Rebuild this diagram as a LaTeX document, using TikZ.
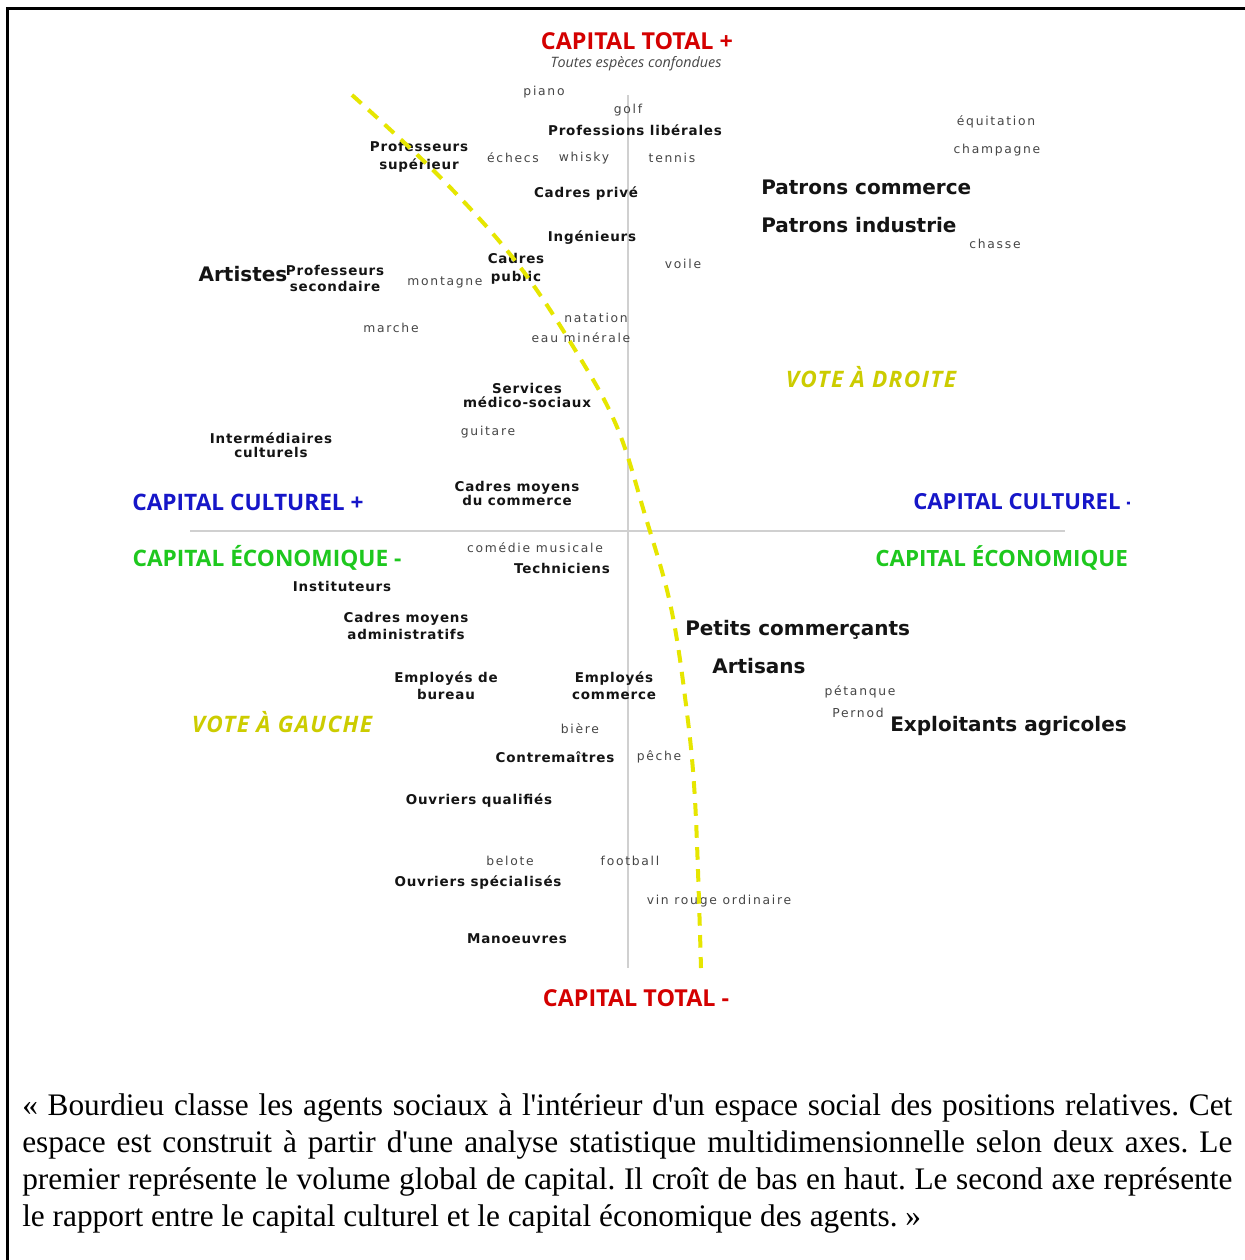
\documentclass[tikz,border=0pt]{standalone}
\usepackage{fontspec}
\setmainfont{Liberation Serif}
\newfontfamily\dvr{DejaVu Sans}[LetterSpace=14]
\newfontfamily\dvb{DejaVu Sans}[LetterSpace=6]
\newfontfamily\dvbig{DejaVu Sans}
\newfontfamily\osf{Open Sans}
\newfontfamily\osvote{Open Sans}[LetterSpace=6]
\definecolor{capred}{RGB}{212,0,0}
\definecolor{capblue}{RGB}{22,22,200}
\definecolor{capgreen}{RGB}{30,200,30}
\definecolor{voteyellow}{RGB}{204,204,0}
\definecolor{dashyellow}{RGB}{230,230,0}
\definecolor{actgray}{RGB}{70,70,70}
\definecolor{lblblack}{RGB}{20,20,20}
\definecolor{axisgray}{RGB}{208,208,208}
\begin{document}
\frenchspacing
\begin{tikzpicture}[x=0.75pt,y=-0.75pt,
  act/.style={font=\dvr\fontsize{9.25}{10}\selectfont, text=actgray, inner sep=0pt},
  lbl/.style={font=\dvb\bfseries\fontsize{10.1}{13.5}\selectfont, text=lblblack, align=center, inner sep=0pt},
  big/.style={font=\dvbig\bfseries\fontsize{15}{18}\selectfont, text=lblblack, inner sep=0pt},
  axislbl/.style={font=\osf\bfseries\fontsize{17}{19}\selectfont, inner sep=0pt},
  totallbl/.style={font=\osf\bfseries\fontsize{17.5}{19}\selectfont, text=capred, inner sep=0pt},
  vote/.style={font=\osvote\bfseries\itshape\fontsize{17}{19}\selectfont, text=voteyellow, inner sep=0pt},
  axisline/.style={draw=axisgray, line width=1.9pt},
  frameline/.style={draw=black, line width=1.7pt},
  divide/.style={draw=dashyellow, line width=3pt, dash pattern=on 9.5pt off 7pt},
  caption/.style={font=\fontsize{23.5}{27.75}\selectfont, inner sep=0pt, anchor=base west}
]
\useasboundingbox (0,0) rectangle (1245,1260);
\fill[white] (0,0) rectangle (1245,1260);
% frame
\draw[frameline] (7.5,1262) -- (7.5,8.5) -- (1247,8.5);
% axes
\draw[axisline] (628,95) -- (628,968);
\draw[axisline] (190,531) -- (1065,531);

% titles
\node[totallbl] (ctp) at (637,41) {CAPITAL TOTAL +};
\node[font=\osf\itshape\fontsize{10.75}{12}\selectfont, text=actgray, inner sep=0pt] (tec) at (636,64) {Toutes espèces confondues};
\node[totallbl] (ctm) at (636,998) {CAPITAL TOTAL -};
\node[axislbl, text=capblue] (ccplus) at (248,502) {CAPITAL CULTUREL +};
\node[axislbl, text=capgreen] (ceminus) at (267,558) {CAPITAL ÉCONOMIQUE -};
\begin{scope}
\clip (0,0) rectangle (1129,1060);
\node[axislbl, text=capblue, anchor=west, font=\osf\bfseries\fontsize{16.6}{19}\selectfont] (ccminus) at (913,502) {CAPITAL CULTUREL -};
\node[axislbl, text=capgreen, anchor=west, font=\osf\bfseries\fontsize{16.8}{19}\selectfont] (ceplus) at (875,558) {CAPITAL ÉCONOMIQUE};
\end{scope}
\node[vote] (vdroite) at (871,377) {VOTE À DROITE};
\node[vote] (vgauche) at (282,722) {VOTE À GAUCHE};

% activities
\node[act] (piano) at (544,92) {piano};
\node[act] (golf) at (628,110) {golf};
\node[act] (echecs) at (513,158) {échecs};
\node[act] (whisky) at (584,158) {whisky};
\node[act] (tennis) at (672,158) {tennis};
\node[act] (equit) at (996,122) {équitation};
\node[act] (champ) at (997,150) {champagne};
\node[act] (chasse) at (995,244) {chasse};
\node[act] (voile) at (683,264) {voile};
\node[act] (montagne) at (445,282) {montagne};
\node[act] (marche) at (391,328) {marche};
\node[act] (natation) at (596,318) {natation};
\node[act] (eau) at (581,338) {eau minérale};
\node[act] (guitare) at (488,432) {guitare};
\node[act] (comedie) at (535,548) {comédie musicale};
\node[act] (petanque) at (860,692) {pétanque};
\node[act] (pernod) at (858,713) {Pernod};
\node[act] (biere) at (580,729) {bière};
\node[act] (peche) at (659,757) {pêche};
\node[act] (belote) at (510,861) {belote};
\node[act] (football) at (630,861) {football};
\node[act] (vin) at (719,901) {vin rouge ordinaire};

% social groups
\node[lbl] (prolib) at (635,130) {Professions libérales};
\node[lbl] (profsup) at (419,157) {Professeurs\\supérieur};
\node[lbl] (cadpriv) at (586,194) {Cadres privé};
\node[lbl] (ingen) at (592,238) {Ingénieurs};
\node[lbl] (cadpub) at (516,269) {Cadres\\public};
\node[lbl] (profsec) at (335,278) {Professeurs\\[-1.5pt]secondaire};
\node[lbl] (services) at (527,395) {Services\\[-3pt]médico-sociaux};
\node[lbl] (interm) at (271,445) {Intermédiaires\\[-3pt]culturels};
\node[lbl] (cmcom) at (517,493) {Cadres moyens\\[-3pt]du commerce};
\node[lbl] (techn) at (562,568) {Techniciens};
\node[lbl] (instit) at (342,586) {Instituteurs};
\node[lbl] (cmadm) at (406,626) {Cadres moyens\\[-0.75pt]administratifs};
\node[lbl] (empbur) at (446,686) {Employés de\\[-0.75pt]bureau};
\node[lbl] (empcom) at (614,686) {Employés\\[-0.75pt]commerce};
\node[lbl] (contre) at (555,757) {Contremaîtres};
\node[lbl] (ouvq) at (479,801) {Ouvriers qualifiés};
\node[lbl] (ouvs) at (478,883) {Ouvriers spécialisés};
\node[lbl] (manoeuvres) at (517,939) {Manoeuvres};

\node[big] (artistes) at (243,274) {Artistes};
\node[big, anchor=west] (patcom) at (761,187) {Patrons commerce};
\node[big, anchor=west] (patind) at (761,225) {Patrons industrie};
\node[big, anchor=west] (petcom) at (685,630) {Petits commerçants};
\node[big, anchor=west] (artisans) at (712,666) {Artisans};
\node[big, anchor=west] (exploit) at (890,726) {Exploitants agricoles};

% dividing line between left and right vote
\draw[divide] plot[smooth, tension=0.6] coordinates {(352,95) (440,177) (517,263) (577,353) (617,427) (645,515) (670,603) (685,697) (695,800) (701,968)};

% caption
\node[caption] (cap1) at (22,1115) {\makebox[907.5pt][s]{« Bourdieu classe les agents sociaux à l\textquotesingle intérieur d\textquotesingle un espace social des positions relatives. Cet}};
\node[caption] (cap2) at (22,1152) {\makebox[907.5pt][s]{espace est construit à partir d\textquotesingle une analyse statistique multidimensionnelle selon deux axes. Le}};
\node[caption] (cap3) at (22,1189) {\makebox[907.5pt][s]{premier représente le volume global de capital. Il croît de bas en haut. Le second axe représente}};
\node[caption] (cap4) at (22,1226) {le rapport entre le capital culturel et le capital économique des agents. »};
\end{tikzpicture}
\end{document}
